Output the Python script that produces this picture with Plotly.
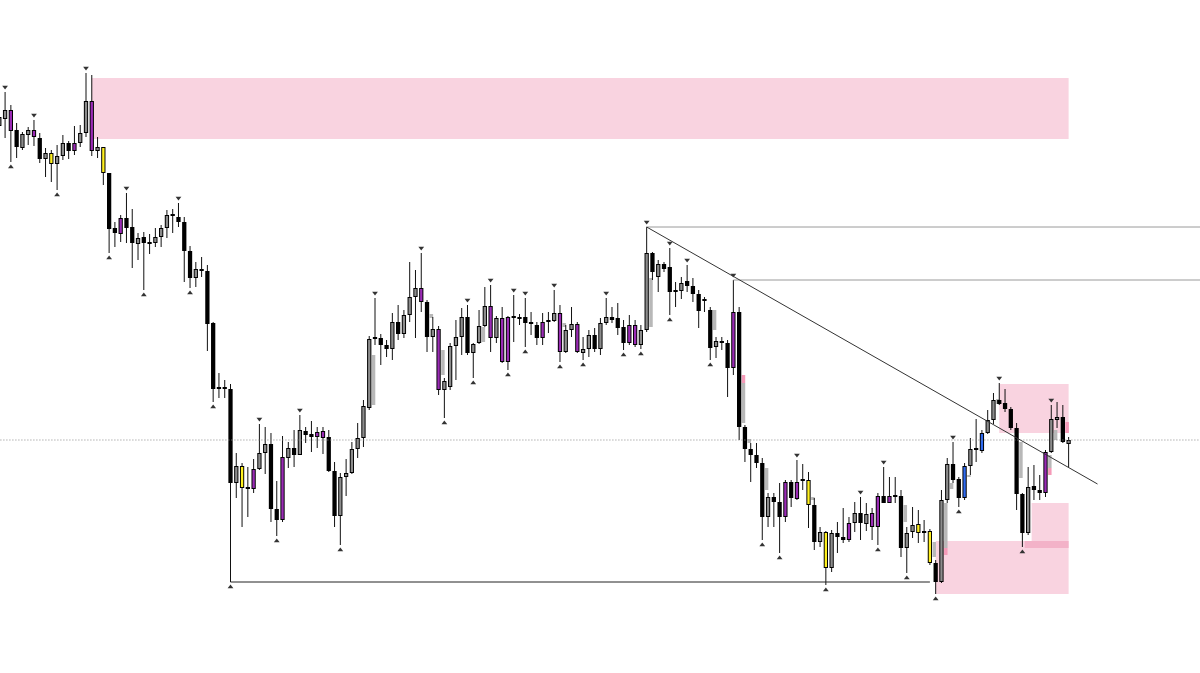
import plotly.graph_objects as go

# ---------------- data (price units) ----------------
opens = [874,881,890,870,852,865,870,862,841,847,836,844,857,849,857,867,899,849,853,827,
         772,766,782,773,756,763,757,757,763,772,785,783,778,749,722,730,729,677,612,612,
         611,517,534,512,511,531,547,556,491,480,542,552,545,569,566,563,569,563,529,484,
         523,527,551,562,592,661,662,655,651,678,666,685,703,712,698,663,671,610,613,654,
         663,683,647,657,674,694,662,682,638,683,682,683,677,675,662,678,679,687,648,670,
         676,647,651,665,651,677,683,682,673,657,675,655,670,747,723,736,733,709,709,719,
         714,706,700,690,653,658,657,632,688,573,551,545,537,483,503,498,483,518,501,520,
         520,495,458,468,432,467,463,460,477,487,476,473,473,504,497,504,504,452,468,476,
         467,469,437,418,500,536,521,502,534,550,549,567,580,600,597,591,572,506,467,514,
         510,507,548,580,583,556]
highs = [888,908,895,877,868,873,880,867,852,850,855,865,859,874,875,927,925,863,853,827,
         778,785,807,791,767,768,766,772,775,790,791,797,783,754,738,743,735,678,627,620,
         616,547,537,533,541,576,573,567,519,564,558,570,585,573,579,573,573,570,538,527,
         541,558,577,600,664,702,666,660,687,695,690,738,730,747,700,683,674,622,657,680,
         692,695,657,690,713,715,684,693,684,705,686,702,688,678,687,688,710,695,675,693,
         678,663,670,672,682,702,693,697,680,685,680,675,773,748,740,738,752,718,723,735,
         722,710,703,693,663,663,660,720,693,575,557,557,542,507,507,517,520,520,540,536,
         528,502,473,469,470,478,492,483,498,503,497,492,507,533,523,523,510,473,493,490,
         480,471,440,510,542,558,523,537,562,581,570,590,607,617,611,593,577,507,533,535,
         525,550,595,598,595,563]
lows = [868,862,838,842,850,855,854,837,823,818,810,840,841,845,853,863,844,842,815,747,
        753,758,757,732,740,710,746,753,753,762,767,773,718,712,713,723,649,598,602,602,
        418,502,473,483,507,530,526,478,464,478,532,533,545,557,548,552,546,528,473,455,
        504,526,542,553,590,655,635,643,640,660,662,678,662,688,648,648,605,582,610,620,
        645,645,622,656,673,648,657,637,630,658,675,653,665,655,655,667,678,638,647,663,
        647,640,643,648,645,675,677,665,650,655,653,651,668,720,708,728,685,693,701,708,
        698,672,688,640,642,650,603,625,560,538,518,532,460,473,473,447,478,493,500,510,
        472,450,453,415,428,447,457,458,468,460,469,460,455,497,497,497,443,427,462,457,
        458,435,406,417,497,517,493,500,525,538,547,566,576,595,588,570,490,453,465,500,
        500,503,547,572,557,533]
closes = [883,890,869,853,866,870,863,841,847,836,844,857,849,857,867,899,849,853,827,771,
          767,782,772,757,762,757,756,763,772,785,784,778,749,722,731,729,676,611,611,611,
          517,534,512,511,531,547,556,491,480,543,552,545,570,565,563,568,562,529,484,523,
          527,551,562,594,661,663,655,651,678,666,685,703,712,698,663,671,610,619,654,663,
          683,647,656,674,694,662,682,638,683,682,681,677,676,662,678,680,687,648,670,676,
          648,651,665,651,677,683,680,672,657,675,655,670,747,728,736,731,708,708,717,714,
          706,689,699,652,659,657,632,688,573,551,545,537,483,503,498,483,518,502,518,519,
          495,458,468,432,467,463,460,477,487,477,486,487,504,497,504,503,452,467,475,467,
          469,437,418,500,536,520,502,534,551,551,567,580,600,596,591,572,506,467,513,510,
          507,548,581,583,558,560]
kinds = list("ggpkggpkgyggkpggpgyk" "kpkkgkkgggkkkkgkkkkk" "kgykpggkkpgkgkkppkkg"
             "ggggggkkgkgggpkgpggg" "gkgggpgppkkkkkpggpgg" "pggkggkkkppggkgkkkgk"
             "kkkkgkkpkkkkkgkkpkpk" "ykgygkkpgkgppkpkkggy" "gykggkkbgkbggkkkkkgk"
             "kpggkg")

swing_high_idx = [1, 6, 15, 22, 31, 45, 52, 65, 73, 81, 85, 89, 91, 96, 105, 112, 116,
                  119, 127, 138, 149, 153, 165, 173, 182]
swing_low_idx = [2, 10, 19, 25, 33, 37, 40, 48, 59, 77, 82, 88, 91, 97, 101, 108, 111,
                 116, 123, 132, 135, 143, 152, 157, 162, 166, 177]

# supply / demand zones: start index, end index, top, bottom, kind
zone_start = [16, 173, 162, 178.6, 177.4]
zone_end = [185, 185, 185, 185, 185]
zone_top = [922, 616, 459, 497, 459]
zone_bottom = [861, 567, 406, 459, 452]
zone_kind = ["zone", "zone", "zone", "zone", "band"]

# small imbalance boxes next to candles: candle index, top, bottom, kind
gap_idx = [64, 74, 76, 83, 97, 112, 123, 128, 128, 129, 132, 140, 156, 161, 163, 163,
           164, 167, 172, 176, 181, 181, 182, 184]
gap_top = [645, 686, 650, 673, 677, 722, 690, 617, 625, 561, 532, 503, 495, 458, 497, 452,
           517, 525, 601, 558, 545, 532, 570, 578]
gap_bottom = [595, 682, 625, 658, 673, 673, 670, 577, 617, 557, 510, 500, 478, 443, 452, 445,
              511, 523, 596, 522, 532, 525, 560, 567]
gap_kind = ["g", "g", "g", "g", "g", "g", "g", "g", "p", "g", "g", "g", "g", "g", "g", "p",
            "g", "g", "g", "g", "g", "p", "g", "p"]

trend_idx = [112, 190]
trend_price = [highs[112], 516]

# ---------------- styles ----------------
body_colors = {"g": "#8c8c8c", "p": "#9a2bb5", "y": "#fff01f", "b": "#2f6bf0"}
outline_color = "#000000"
outer_w = 0.74      # body width (in candle slots)
inner_w = 0.40      # fill width inside the 1px outline
inset = 1.0         # vertical outline thickness in price units (1 unit ~ 1px)
zone_colors = {"zone": "#f9d3e0", "band": "#f3b2c8"}
gap_colors = {"g": "#b8b8b8", "p": "#f59ab8"}

n = len(opens)
x_idx = list(range(n))

fig = go.Figure()

# zones
for s, e, t, b, k in zip(zone_start, zone_end, zone_top, zone_bottom, zone_kind):
    fig.add_shape(type="rect", x0=s, x1=e, y0=b, y1=t, fillcolor=zone_colors[k],
                  line_width=0, layer="below")
# imbalance boxes
for i, t, b, k in zip(gap_idx, gap_top, gap_bottom, gap_kind):
    fig.add_shape(type="rect", x0=i + 0.45, x1=i + 1.05, y0=b, y1=t,
                  fillcolor=gap_colors[k], line_width=0, layer="below")

body_lo = [min(o, c) for o, c in zip(opens, closes)]
body_hi = [max(o, c) for o, c in zip(opens, closes)]
body_h = [max(hi - lo, 1.5) for hi, lo in zip(body_hi, body_lo)]

# wicks (only outside the body so they do not cross the coloured fill)
wx, wy = [], []
for i in x_idx:
    wx += [i, i, None, i, i, None]
    wy += [highs[i], body_lo[i] + body_h[i], None, body_lo[i], lows[i], None]
fig.add_trace(go.Scatter(x=wx, y=wy, mode="lines", line=dict(color="#111111", width=1),
                         hoverinfo="skip", showlegend=False))

# bodies: dark outer box for every candle
fig.add_trace(go.Bar(x=x_idx, y=body_h, base=body_lo, width=outer_w,
                     marker=dict(color=outline_color, line=dict(width=0)),
                     showlegend=False, hoverinfo="skip"))
# coloured fill inside the outline
for k, col in body_colors.items():
    ids = [i for i in x_idx if kinds[i] == k and body_h[i] > 2 * inset + 0.5]
    if not ids:
        continue
    fig.add_trace(go.Bar(x=ids, y=[body_h[i] - 2 * inset for i in ids],
                         base=[body_lo[i] + inset for i in ids], width=inner_w,
                         marker=dict(color=col, line=dict(width=0)),
                         showlegend=False, hoverinfo="skip"))

# swing markers
fig.add_trace(go.Scatter(x=swing_high_idx, y=[highs[i] + 5 for i in swing_high_idx],
                         mode="markers", marker=dict(symbol="triangle-down", size=5, color="#333333"),
                         showlegend=False, hoverinfo="skip"))
fig.add_trace(go.Scatter(x=swing_low_idx, y=[lows[i] - 5 for i in swing_low_idx],
                         mode="markers", marker=dict(symbol="triangle-up", size=5, color="#333333"),
                         showlegend=False, hoverinfo="skip"))

# level lines
fig.add_trace(go.Scatter(x=[112, 215], y=[highs[112], highs[112]], mode="lines",
                         line=dict(color="#9a9a9a", width=1), showlegend=False, hoverinfo="skip"))
fig.add_trace(go.Scatter(x=[127, 215], y=[highs[127], highs[127]], mode="lines",
                         line=dict(color="#9a9a9a", width=1), showlegend=False, hoverinfo="skip"))
fig.add_trace(go.Scatter(x=[40, 161], y=[lows[40], lows[40]], mode="lines",
                         line=dict(color="#222222", width=1), showlegend=False, hoverinfo="skip"))
fig.add_trace(go.Scatter(x=trend_idx, y=trend_price, mode="lines",
                         line=dict(color="#333333", width=1), showlegend=False, hoverinfo="skip"))
fig.add_trace(go.Scatter(x=[-5, 215], y=[closes[-1], closes[-1]], mode="lines",
                         line=dict(color="#8a8a8a", width=1, dash="1px,2px"), showlegend=False,
                         hoverinfo="skip"))

fig.update_layout(
    width=1200, height=673,
    margin=dict(l=0, r=0, t=0, b=0),
    paper_bgcolor="white", plot_bgcolor="white",
    barmode="overlay", showlegend=False,
    xaxis=dict(range=[0.121, 207.73], visible=False, showgrid=False, zeroline=False),
    yaxis=dict(range=[327, 1000], visible=False, showgrid=False, zeroline=False),
)

fig.write_html("out.html", config={"displayModeBar": False},
               post_script="document.body.style.margin='0';")
